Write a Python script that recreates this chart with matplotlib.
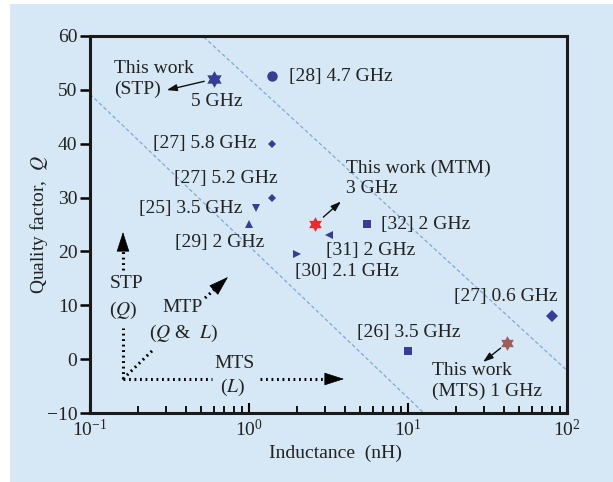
import matplotlib

matplotlib.use("Agg")
import matplotlib.pyplot as plt
import numpy as np
from matplotlib.patches import Rectangle
from matplotlib.path import Path

plt.rcParams["font.family"] = "serif"
plt.rcParams["font.serif"] = ["Liberation Serif", "DejaVu Serif"]
plt.rcParams["mathtext.fontset"] = "stix"

# ---- data ------------------------------------------------------------------
# reported inductors from the literature: label, L (nH), Q, marker
lit_labels = ["[28] 4.7 GHz", "[27] 5.8 GHz", "[27] 5.2 GHz", "[25] 3.5 GHz",
              "[29] 2 GHz", "[31] 2 GHz", "[30] 2.1 GHz", "[32] 2 GHz",
              "[27] 0.6 GHz", "[26] 3.5 GHz"]
lit_L = [1.4, 1.4, 1.4, 1.1, 1.0, 3.2, 2.0, 5.5, 80.0, 10.0]
lit_Q = [52.5, 40.0, 30.0, 28.0, 25.0, 23.0, 19.5, 25.0, 8.0, 1.5]
lit_markers = ["o", "D", "D", "v", "^", "<", ">", "s", "D", "s"]

# this work: STP, MTM, MTS
work_names = ["STP", "MTM", "MTS"]
work_L = [0.6, 2.6, 42.0]
work_Q = [52.0, 25.0, 3.0]

# dashed figure-of-merit guides: Q = a + b*log10(L)
guide_a = [21.0, 52.1]
guide_b = [-28.2, -27.1]

# ---- style -----------------------------------------------------------------
PANEL = "#d6e8f5"
NAVY = "#373c96"
RED = "#f0272b"
BROWN = "#9e5d5a"
GUIDE = "#7fa8dc"
TEXT = "#222222"
FS = 14

lit_ms = [7.5, 3.8, 3.8, 5.2, 5.2, 5.2, 5.2, 5.2, 6.2, 6.0]
# label offsets in pixels from each marker, plus horizontal alignment
lit_off = [(17, 0, "left"), (-16, 0, "right"), (5, 19, "right"),
           (-13, 0, "right"), (-74, -18, "left"), (-3, -15, "left"),
           (-2, -17, "left"), (14, 0, "left"), (6, 20, "right"),
           (-51, 19, "left")]

work_colors = [NAVY, RED, BROWN]
work_ms = [12, 10.5, 10.5]

# six-pointed star marker
ang = np.deg2rad(90 + 30 * np.arange(12))
rad = np.where(np.arange(12) % 2 == 0, 1.0, 1 / np.sqrt(3))
verts = np.column_stack([rad * np.cos(ang), rad * np.sin(ang)])
hexagram = Path(np.vstack([verts, verts[:1]]), closed=True)

fig = plt.figure(figsize=(6.13, 4.82), dpi=100)
fig.patch.set_facecolor("white")
fig.add_artist(Rectangle((10 / 613, 0), 1, 478 / 482, transform=fig.transFigure,
                         facecolor=PANEL, edgecolor="none", zorder=-5))

ax = fig.add_axes((90 / 613, 1 - 413 / 482, 477 / 613, 377 / 482))
ax.set_facecolor("none")
ax.set_xscale("log")
ax.set_xlim(0.1, 100)
ax.set_ylim(-10, 60)
ax.set_yticks(np.arange(-10, 61, 10))

for s in ax.spines.values():
    s.set_linewidth(2.2)
    s.set_color("#1a1a1a")
ax.tick_params(axis="y", direction="out", length=7, width=1.8, labelsize=FS, pad=2,
               labelcolor=TEXT)
ax.tick_params(axis="x", which="major", direction="in", length=7, width=1.5,
               labelsize=FS, pad=4, labelcolor=TEXT)
ax.tick_params(axis="x", which="minor", direction="in", length=5, width=1.3)

ax.set_ylabel("Quality factor,  $Q$", fontsize=FS, color=TEXT)
ax.yaxis.set_label_coords(-0.084, 0.5)
ax.set_xlabel("Inductance  (nH)", fontsize=FS, color=TEXT)
ax.xaxis.set_label_coords(0.514, -0.085)

# guide lines
Lg = np.logspace(-1, 2, 200)
for a, b in zip(guide_a, guide_b):
    ax.plot(Lg, a + b * np.log10(Lg), color=GUIDE, lw=0.9, ls=(0, (3, 2)), zorder=1)

# literature points
for lab, L, Q, m, ms, (dx, dy, ha) in zip(lit_labels, lit_L, lit_Q, lit_markers,
                                          lit_ms, lit_off):
    ax.plot([L], [Q], marker=m, ms=ms, color=NAVY, mew=0, ls="none", zorder=4)
    ax.annotate(lab, (L, Q), xytext=(dx, dy), textcoords="offset pixels",
                ha=ha, va="center", fontsize=FS, color=TEXT)

# this work
for L, Q, c, ms in zip(work_L, work_Q, work_colors, work_ms):
    ax.plot([L], [Q], marker=hexagram, ms=ms, color=c, mew=0, ls="none", zorder=5)

arrow_kw = dict(arrowstyle="<|-,head_length=0.5,head_width=0.17", color="#111111",
                lw=1.0, shrinkA=0, mutation_scale=12)
# STP
ax.annotate("", (work_L[0], work_Q[0]), xytext=(-47, -11), textcoords="offset pixels",
            arrowprops=dict(arrow_kw, shrinkB=7))
ax.annotate("This work\n(STP)", (work_L[0], work_Q[0]), xytext=(-100, 0),
            textcoords="offset pixels", ha="left", va="center", fontsize=FS,
            color=TEXT, linespacing=1.25)
ax.annotate("5 GHz", (work_L[0], work_Q[0]), xytext=(3, -22),
            textcoords="offset pixels", ha="center", va="center", fontsize=FS,
            color=TEXT)
# MTM
ax.annotate("", (work_L[1], work_Q[1]), xytext=(26, 23), textcoords="offset pixels",
            arrowprops=dict(arrow_kw, shrinkB=8))
ax.annotate("This work (MTM)\n3 GHz", (work_L[1], work_Q[1]), xytext=(31, 46),
            textcoords="offset pixels", ha="left", va="center", fontsize=FS,
            color=TEXT, linespacing=1.25)
# MTS
ax.annotate("", (work_L[2], work_Q[2]), xytext=(-24, -19), textcoords="offset pixels",
            arrowprops=dict(arrow_kw, shrinkB=6))
ax.annotate("This work\n(MTS) 1 GHz", (work_L[2], work_Q[2]), xytext=(-75, -38),
            textcoords="offset pixels", ha="left", va="center", fontsize=FS,
            color=TEXT, linespacing=1.25)


# design-direction sketch in the lower left (axes pixels -> fraction)
def to_ax(px, py):
    return ((px - 90) / 477, (413 - py) / 377)


dot_kw = dict(color="black", lw=2.2, ls=(0, (0.6, 1.2)), transform=ax.transAxes,
              solid_capstyle="butt", dash_capstyle="butt", zorder=3)
segments = [[(123, 379), (123, 328)], [(123, 270), (123, 246)],
            [(123, 379), (212, 379)], [(260, 379), (329, 379)],
            [(123, 379), (153, 350)], [(205, 298), (216, 288)]]
for seg in segments:
    xs, ys = zip(*[to_ax(*p) for p in seg])
    ax.plot(xs, ys, **dot_kw)
heads = [((123, 248), (123, 232)), ((328, 379), (344, 379)), ((215, 289), (228, 277))]
for start, end in heads:
    ax.annotate("", to_ax(*end), xytext=to_ax(*start), xycoords="axes fraction",
                textcoords="axes fraction",
                arrowprops=dict(arrowstyle="-|>,head_length=1.3,head_width=0.42",
                                color="black", lw=0.5, shrinkA=0, shrinkB=0,
                                mutation_scale=10))

sketch_text = [("STP", (127, 284)), ("($Q$)", (123, 310)), ("MTP", (183, 308)),
               (r"($Q$ &  $L$)", (183, 333)), ("MTS", (235, 364)), ("($L$)", (233, 387))]
for txt, p in sketch_text:
    ax.text(*to_ax(*p), txt, transform=ax.transAxes, ha="center", va="center",
            fontsize=FS, color=TEXT)

fig.savefig("out.png", dpi=100, facecolor=fig.get_facecolor())
